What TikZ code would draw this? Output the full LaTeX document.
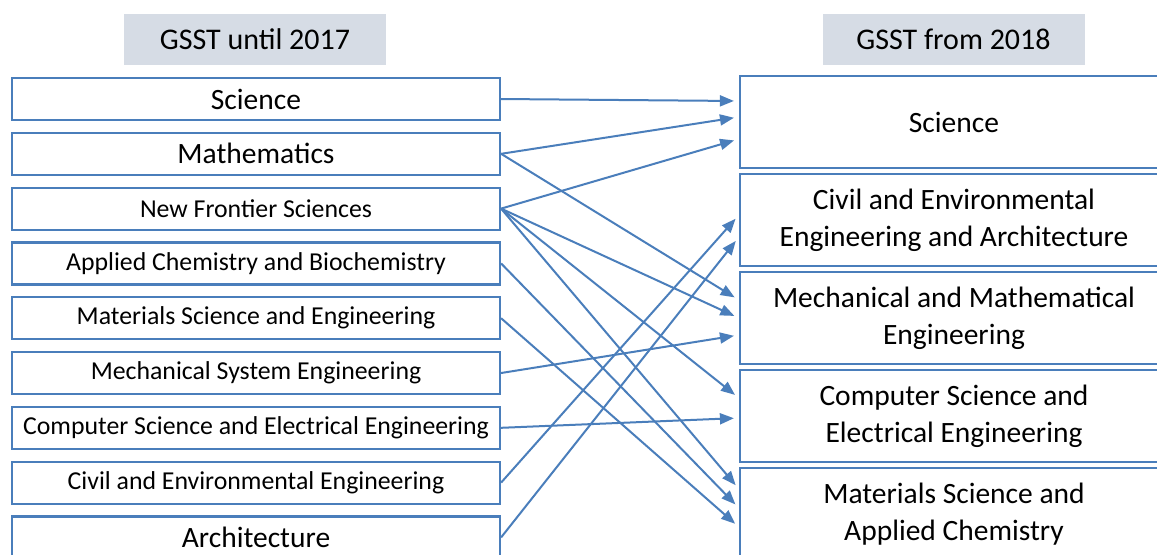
\documentclass[tikz,border=0pt]{standalone}
\usepackage{fontspec}
\setmainfont{Carlito}
\usetikzlibrary{positioning,calc}
\usetikzlibrary{arrows.meta}
\definecolor{boxblue}{RGB}{74,126,187}
\definecolor{headfill}{RGB}{214,220,229}

\begin{document}
\begin{tikzpicture}[x=0.5pt,y=-0.5pt,on grid,
    oldbox/.style={draw=boxblue,line width=1.1pt,minimum width=244pt,minimum height=21pt,inner sep=0pt,
      font=\fontsize{12.9}{15}\selectfont},
    bigtext/.style={font=\fontsize{14.75}{17}\selectfont},
    newbox/.style={draw=boxblue,line width=1.1pt,minimum width=214pt,minimum height=46pt,inner sep=0pt,
      align=center,font=\fontsize{14.75}{18.5}\selectfont},
    headbox/.style={fill=headfill,minimum width=131pt,minimum height=25.5pt,font=\fontsize{15}{18}\selectfont},
    arr/.style={color=boxblue,line width=1pt,-{Triangle[length=7pt,width=5.5pt]},shorten >=2.5pt}]
   \useasboundingbox (0,0) rectangle (1157,554);
   % headers
   \node[headbox] (h_old) at (255,39.5) {GSST until 2017};
   \node[headbox] (h_new) at (953.5,39.5) {GSST from 2018};
   % until 2017
   \begin{scope}[node distance=27.4pt]
   \node[oldbox,bigtext] (o_sci) at (256,99) {Science};
   \node[oldbox,bigtext] (o_math) [below=of o_sci] {Mathematics};
   \node[oldbox] (o_nfs) [below=of o_math] {New Frontier Sciences};
   \node[oldbox] (o_chem) [below=of o_nfs] {Applied Chemistry and Biochemistry};
   \node[oldbox] (o_mat) [below=of o_chem] {Materials Science and Engineering};
   \node[oldbox] (o_mech) [below=of o_mat] {Mechanical System Engineering};
   \node[oldbox] (o_cs) [below=of o_mech] {Computer Science and Electrical Engineering};
   \node[oldbox] (o_civ) [below=of o_cs] {Civil and Environmental Engineering};
   \node[oldbox,bigtext] (o_arch) [below=of o_civ] {Architecture};
   \end{scope}
   % from 2018
   \begin{scope}[node distance=49pt]
   \node[newbox] (n_sci) at (954,122) {Science};
   \node[newbox] (n_civ) [below=of n_sci] {Civil and Environmental\\Engineering and Architecture};
   \node[newbox] (n_mech) [below=of n_civ] {Mechanical and Mathematical\\Engineering};
   \node[newbox] (n_cs) [below=of n_mech] {Computer Science and\\Electrical Engineering};
   \node[newbox] (n_mat) [below=of n_cs] {Materials Science and\\Applied Chemistry};
   \end{scope}
    \path[arr]
    (o_sci.east) edge ($(n_sci.west)+(0,-21)$)
    (o_math.east) edge ($(n_sci.west)+(0,-5)$)
    (o_nfs.east) edge ($(n_sci.west)+(0,17)$)
    (o_civ.east) edge ($(n_civ.west)+(0,-5)$)
    (o_arch.east) edge ($(n_civ.west)+(0,17)$)
    (o_math.east) edge ($(n_mech.west)+(0,-18)$)
    (o_nfs.east) edge ($(n_mech.west)+(0,0)$)
    (o_mech.east) edge ($(n_mech.west)+(0,17)$)
    (o_nfs.east) edge ($(n_cs.west)+(0,-18)$)
    (o_cs.east) edge ($(n_cs.west)+(0,2)$)
    (o_nfs.east) edge ($(n_mat.west)+(0,-25)$)
    (o_chem.east) edge ($(n_mat.west)+(0,-6)$)
    (o_mat.east) edge ($(n_mat.west)+(0,13)$);
\end{tikzpicture}
\end{document}
